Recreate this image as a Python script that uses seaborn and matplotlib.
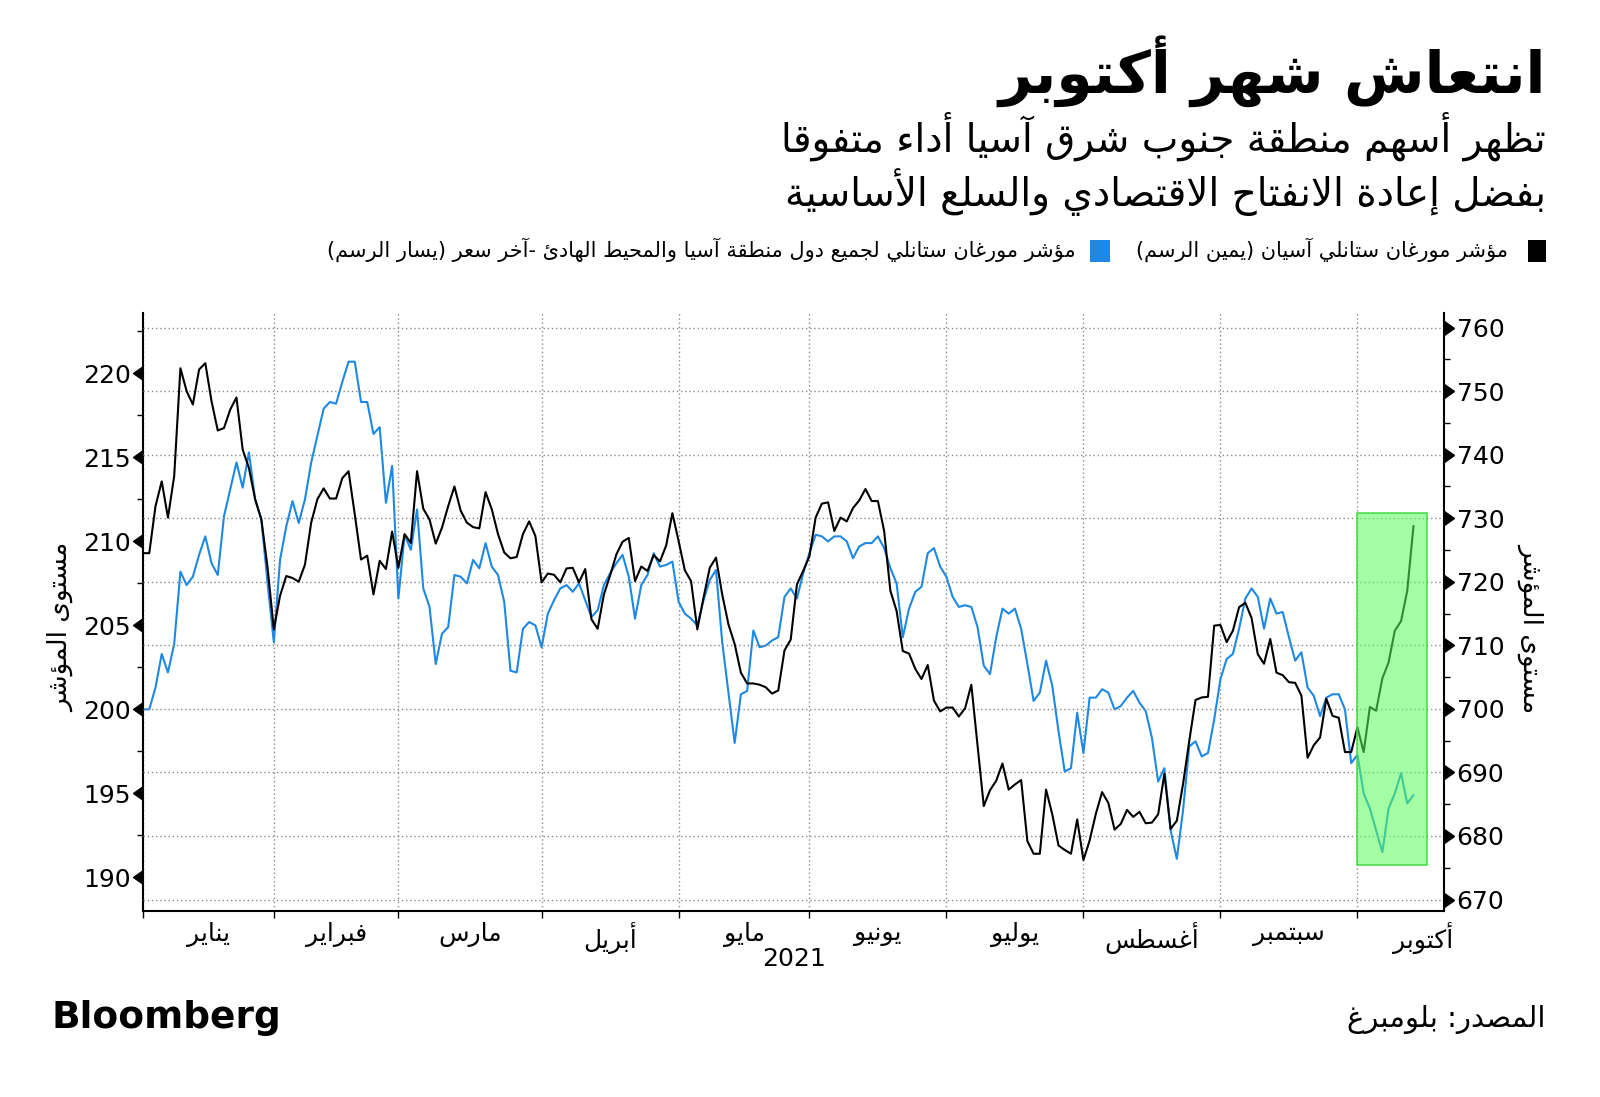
import numpy as np
import pandas as pd
import matplotlib

matplotlib.use("Agg")
import matplotlib.pyplot as plt
from matplotlib import markers, patches
from matplotlib.ticker import FixedLocator, NullFormatter, FixedFormatter
import seaborn as sns


# MSCI AC Asia Pacific, last price (left axis), one value per weekday from 2021-01-01
ASIA_PACIFIC = [
    200.0, 200.0, 201.3, 203.3, 202.2, 203.9, 208.2, 207.4, 207.9, 209.2,
    210.3, 208.7, 208.0, 211.5, 213.1, 214.7, 213.2, 215.3, 212.5, 211.3,
    207.5, 204.0, 208.9, 210.9, 212.4, 211.1, 212.5, 214.7, 216.3, 217.9,
    218.3, 218.2, 219.5, 220.7, 220.7, 218.3, 218.3, 216.4, 216.8, 212.3,
    214.5, 206.6, 210.4, 209.5, 211.9, 207.2, 206.1, 202.7, 204.5, 204.9,
    208.0, 207.9, 207.5, 208.9, 208.4, 209.9, 208.5, 208.0, 206.4, 202.3,
    202.2, 204.8, 205.2, 205.0, 203.7, 205.7, 206.5, 207.2, 207.4, 207.0,
    207.5, 206.5, 205.5, 205.9, 207.4, 208.1, 208.7, 209.2, 207.9, 205.4,
    207.4, 208.0, 209.3, 208.5, 208.6, 208.8, 206.4, 205.7, 205.4, 205.0,
    206.5, 207.7, 208.3, 204.0, 201.0, 198.0, 200.9, 201.1, 204.7, 203.7,
    203.8, 204.1, 204.3, 206.7, 207.2, 206.6, 208.1, 209.3, 210.4, 210.3,
    210.0, 210.3, 210.3, 210.0, 209.0, 209.7, 209.9, 209.9, 210.3, 209.6,
    208.4, 207.5, 204.3, 206.0, 207.0, 207.3, 209.3, 209.6, 208.5, 207.9,
    206.7, 206.1, 206.2, 206.1, 204.9, 202.6, 202.1, 204.3, 206.0, 205.7,
    206.0, 204.8, 202.7, 200.5, 201.0, 202.9, 201.4, 198.7, 196.3, 196.5,
    199.8, 197.4, 200.7, 200.7, 201.2, 201.0, 200.0, 200.2, 200.7, 201.1,
    200.4, 199.9, 198.3, 195.7, 196.5, 192.8, 191.1, 194.0, 197.8, 198.1,
    197.2, 197.4, 199.4, 201.8, 203.0, 203.3, 204.8, 206.6, 207.2, 206.7,
    204.8, 206.6, 205.7, 205.8, 204.3, 202.9, 203.4, 201.3, 200.8, 199.6,
    200.7, 200.9, 200.9, 200.0, 196.8, 197.3, 195.0, 194.1, 192.8, 191.5,
    194.1, 195.0, 196.2, 194.4, 194.9,
]

# MSCI ASEAN (right axis)
ASEAN = [
    724.5, 724.5, 731.9, 735.8, 730.1, 736.6, 753.6, 750.0, 747.9, 753.4,
    754.4, 748.4, 743.8, 744.2, 747.1, 749.0, 740.8, 737.9, 733.0, 729.8,
    722.2, 712.5, 717.8, 720.9, 720.6, 720.0, 722.7, 729.3, 733.0, 734.7,
    733.1, 733.1, 736.3, 737.4, 730.6, 723.5, 724.1, 718.0, 723.3, 722.0,
    727.9, 722.2, 727.5, 726.1, 737.4, 731.5, 729.8, 726.0, 728.5, 731.9,
    735.0, 731.2, 729.3, 728.6, 728.4, 734.1, 731.4, 727.5, 724.6, 723.7,
    723.9, 727.5, 729.5, 727.2, 719.9, 721.3, 721.1, 719.9, 722.1, 722.2,
    719.9, 722.0, 714.1, 712.6, 718.0, 721.0, 724.3, 726.3, 726.9, 720.1,
    722.4, 721.7, 724.2, 723.2, 725.7, 730.8, 726.4, 721.8, 720.1, 712.5,
    717.5, 722.2, 723.8, 718.0, 713.3, 710.2, 705.7, 704.0, 704.0, 703.8,
    703.4, 702.4, 702.9, 709.2, 710.9, 719.6, 721.7, 724.0, 730.1, 732.3,
    732.5, 728.0, 730.1, 729.5, 731.6, 732.8, 734.6, 732.7, 732.7, 728.0,
    718.6, 715.4, 709.1, 708.7, 706.3, 704.7, 706.9, 701.3, 699.6, 700.2,
    700.2, 698.8, 700.1, 703.8, 694.2, 684.7, 687.2, 688.7, 691.4, 687.3,
    688.1, 688.8, 679.2, 677.2, 677.2, 687.3, 683.4, 678.5, 677.8, 677.2,
    682.6, 676.2, 679.3, 683.5, 686.9, 685.2, 681.0, 681.9, 684.1, 683.0,
    683.8, 682.0, 682.1, 683.4, 689.8, 681.1, 682.4, 688.2, 695.0, 701.4,
    701.8, 701.9, 713.1, 713.2, 710.5, 712.3, 716.0, 716.7, 714.3, 708.6,
    707.1, 711.0, 705.7, 705.3, 704.2, 704.1, 702.1, 692.3, 694.3, 695.5,
    701.6, 698.9, 698.6, 693.2, 693.2, 697.1, 693.2, 700.3, 699.7, 704.8,
    707.3, 712.3, 713.8, 718.6, 728.8,
]

MONTHS = ["يناير", "فبراير", "مارس", "أبريل", "مايو", "يونيو", "يوليو", "أغسطس", "سبتمبر", "أكتوبر"]
LEFT_TICKS = [190, 195, 200, 205, 210, 215, 220]
RIGHT_TICKS = [670, 680, 690, 700, 710, 720, 730, 740, 750, 760]

TITLE = "انتعاش شهر أكتوبر"
SUBTITLE_1 = "تظهر أسهم منطقة جنوب شرق آسيا أداء متفوقا"
SUBTITLE_2 = "بفضل إعادة الانفتاح الاقتصادي والسلع الأساسية"
LEGEND_BLACK = "مؤشر مورغان ستانلي آسيان (يمين الرسم)"
LEGEND_BLUE = "مؤشر مورغان ستانلي لجميع دول منطقة آسيا والمحيط الهادئ -آخر سعر (يسار الرسم)"
AXIS_LABEL = "مستوى المؤشر"
SOURCE = "المصدر: بلومبرغ"

BLUE = "#1e88e5"

# matplotlib has no Arabic shaping: pick presentation forms by hand and reverse for RTL
TWO_FORM = {"آ": 0xFE81, "أ": 0xFE83, "ؤ": 0xFE85, "إ": 0xFE87, "ا": 0xFE8D, "ة": 0xFE93,
            "د": 0xFEA9, "ذ": 0xFEAB, "ر": 0xFEAD, "ز": 0xFEAF, "و": 0xFEED, "ى": 0xFEEF}
FOUR_FORM = {"ئ": 0xFE89, "ب": 0xFE8F, "ت": 0xFE95, "ث": 0xFE99, "ج": 0xFE9D, "ح": 0xFEA1,
             "خ": 0xFEA5, "س": 0xFEB1, "ش": 0xFEB5, "ص": 0xFEB9, "ض": 0xFEBD, "ط": 0xFEC1,
             "ظ": 0xFEC5, "ع": 0xFEC9, "غ": 0xFECD, "ف": 0xFED1, "ق": 0xFED5, "ك": 0xFED9,
             "ل": 0xFEDD, "م": 0xFEE1, "ن": 0xFEE5, "ه": 0xFEE9, "ي": 0xFEF1}
LAM_ALEF = {"آ": 0xFEF5, "أ": 0xFEF7, "إ": 0xFEF9, "ا": 0xFEFB}


def ar(text: str) -> str:
    units = []
    i = 0
    while i < len(text):
        ch = text[i]
        if ch == "ل" and i + 1 < len(text) and text[i + 1] in LAM_ALEF:
            units.append(("right", LAM_ALEF[text[i + 1]]))
            i += 2
            continue
        if ch in FOUR_FORM:
            units.append(("dual", FOUR_FORM[ch]))
        elif ch in TWO_FORM:
            units.append(("right", TWO_FORM[ch]))
        elif ch == "ء":
            units.append(("none", 0xFE80))
        else:
            units.append(("other", ch))
        i += 1

    out = []
    for j, (kind, val) in enumerate(units):
        if kind == "other":
            out.append(val)
            continue
        joins_prev = j > 0 and units[j - 1][0] == "dual"
        joins_next = kind == "dual" and j + 1 < len(units) and units[j + 1][0] in ("dual", "right")
        if kind == "dual":
            offset = 3 if (joins_prev and joins_next) else 1 if joins_prev else 2 if joins_next else 0
        elif kind == "right":
            offset = 1 if joins_prev else 0
        else:
            offset = 0
        out.append(chr(val + offset))
    mirror = {"(": ")", ")": "("}
    return "".join(mirror.get(c, c) for c in reversed(out))


def main() -> None:
    sns.set_theme(style="white")
    plt.rcParams["font.family"] = ["DejaVu Sans"]
    plt.rcParams["text.color"] = "black"
    plt.rcParams["xtick.color"] = "black"
    plt.rcParams["ytick.color"] = "black"

    df = pd.DataFrame(
        {
            "date": pd.bdate_range("2021-01-01", periods=len(ASEAN)),
            "asia_pacific": ASIA_PACIFIC,
            "asean": ASEAN,
        }
    )
    df["pos"] = np.arange(len(df))

    # month boundaries / centres in weekday positions
    month_starts = df.index[df["date"].dt.month.diff().fillna(1) != 0].tolist()
    month_len = [
        len(pd.bdate_range(f"2021-{m:02d}-01", pd.Timestamp(f"2021-{m:02d}-01") + pd.offsets.MonthEnd(0)))
        for m in range(1, 11)
    ]
    month_mids = [s + n / 2 for s, n in zip(month_starts, month_len)]

    fig = plt.figure(figsize=(16, 10.97), dpi=100)
    ax = fig.add_axes([0.0894, 0.1696, 0.8131, 0.5451])
    ax2 = ax.twinx()

    sns.lineplot(data=df, x="pos", y="asia_pacific", ax=ax, color=BLUE, linewidth=1.5)
    sns.lineplot(data=df, x="pos", y="asean", ax=ax2, color="black", linewidth=1.5)

    ax.set_xlim(0, 208.9)
    ax.set_ylim(188.0, 223.6)
    ax2.set_ylim(668.2, 762.3)
    ax.set_xlabel("")
    ax.set_ylabel("")
    ax2.set_ylabel("")

    # October highlight
    ax2.add_patch(
        patches.Rectangle(
            (195, 675.5), 11.2, 55.3,
            facecolor=(0.35, 1.0, 0.35, 0.55),
            edgecolor=(0.25, 0.85, 0.25, 0.9),
            linewidth=1.2,
            zorder=5,
        )
    )

    for side in ["top", "right"]:
        ax.spines[side].set_visible(False)
    for side in ["top", "left", "bottom"]:
        ax2.spines[side].set_visible(False)
    for spine in [ax.spines["left"], ax.spines["bottom"], ax2.spines["right"]]:
        spine.set_color("black")
        spine.set_linewidth(1.5)

    # x axis: ticks at month starts, labels at month centres
    ax.xaxis.set_major_locator(FixedLocator(month_starts))
    ax.xaxis.set_major_formatter(NullFormatter())
    ax.xaxis.set_minor_locator(FixedLocator(month_mids))
    ax.xaxis.set_minor_formatter(FixedFormatter([ar(m) for m in MONTHS]))
    ax.tick_params(axis="x", which="major", direction="out", length=5, width=1, color="black", bottom=True)
    ax.tick_params(axis="x", which="minor", length=0, pad=8, labelsize=18, bottom=True)

    # y axes
    ax.yaxis.set_major_locator(FixedLocator(LEFT_TICKS))
    ax.yaxis.set_minor_locator(FixedLocator([v + 2.5 for v in LEFT_TICKS]))
    ax.tick_params(axis="y", which="major", left=True, length=8, width=1, pad=1, labelsize=18, colors="black")
    ax.tick_params(axis="y", which="minor", left=True, length=4, width=1, color="black")
    ax2.yaxis.set_major_locator(FixedLocator(RIGHT_TICKS))
    ax2.yaxis.set_minor_locator(FixedLocator([v + 5 for v in RIGHT_TICKS[:-1]]))
    ax2.tick_params(axis="y", which="major", right=True, length=8, width=1, pad=1, labelsize=18, colors="black")
    ax2.tick_params(axis="y", which="minor", right=True, length=4, width=1, color="black")
    for tick in ax.yaxis.get_major_ticks():
        tick.tick1line.set_marker(markers.CARETLEFTBASE)
        tick.tick1line.set_markersize(10)
    for tick in ax2.yaxis.get_major_ticks():
        tick.tick2line.set_marker(markers.CARETRIGHTBASE)
        tick.tick2line.set_markersize(10)

    grid_style = {"color": "#8a8a8a", "linestyle": (0, (1, 2)), "linewidth": 1.0}
    ax.grid(False)
    ax2.grid(False)
    ax.xaxis.grid(True, which="major", **grid_style)
    ax2.yaxis.grid(True, which="major", **grid_style)
    ax.set_axisbelow(True)

    # axis titles
    fig.text(0.038, 0.428, ar(AXIS_LABEL), rotation=90, ha="center", va="center", fontsize=19)
    fig.text(0.957, 0.428, ar(AXIS_LABEL), rotation=270, ha="center", va="center", fontsize=19)
    fig.text(0.496, 1 - 959 / 1097, "2021", ha="center", va="center", fontsize=18)

    # headline block
    right_x = 0.966
    fig.text(right_x, 1 - 71 / 1097, ar(TITLE), ha="right", va="center", fontsize=42, weight="bold")
    fig.text(right_x, 1 - 136 / 1097, ar(SUBTITLE_1), ha="right", va="center", fontsize=28)
    fig.text(right_x, 1 - 192 / 1097, ar(SUBTITLE_2), ha="right", va="center", fontsize=28)

    # legend
    fig.patches.append(patches.Rectangle((0.955, 1 - 262 / 1097), 0.0113, 22 / 1097,
                                         transform=fig.transFigure, facecolor="black", edgecolor="none"))
    fig.text(0.9425, 1 - 250 / 1097, ar(LEGEND_BLACK), ha="right", va="center", fontsize=15)
    fig.patches.append(patches.Rectangle((0.681, 1 - 262 / 1097), 0.0125, 22 / 1097,
                                         transform=fig.transFigure, facecolor=BLUE, edgecolor="none"))
    fig.text(0.6725, 1 - 250 / 1097, ar(LEGEND_BLUE), ha="right", va="center", fontsize=15)

    # footer
    fig.text(0.032, 1 - 1018 / 1097, "Bloomberg", ha="left", va="center", fontsize=27, weight="bold")
    fig.text(right_x, 1 - 1020 / 1097, ar(SOURCE), ha="right", va="center", fontsize=21)

    fig.savefig("out.png", dpi=100)
    plt.close(fig)


if __name__ == "__main__":
    main()
